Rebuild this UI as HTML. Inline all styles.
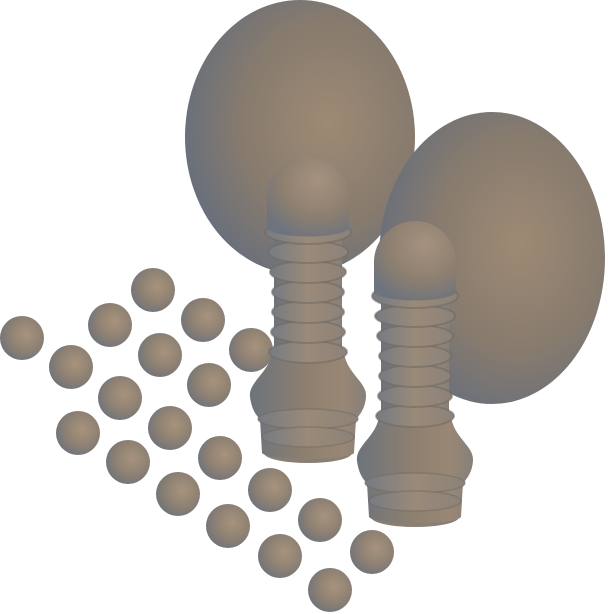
<!DOCTYPE html>
<html><head><meta charset="utf-8"><style>html,body{margin:0;padding:0;background:#fff}svg{display:block}</style></head>
<body>
<svg id="scene" width="610" height="614" viewBox="0 0 610 614" xmlns="http://www.w3.org/2000/svg">
<defs>
<radialGradient id="sph" cx="0.6" cy="0.42" r="0.68">
<stop offset="0" stop-color="#a8937c"/><stop offset="0.55" stop-color="#8e8173"/><stop offset="1" stop-color="#6b717b"/>
</radialGradient>
<radialGradient id="egg" cx="0.62" cy="0.45" r="0.62">
<stop offset="0" stop-color="#9e8a74"/><stop offset="0.6" stop-color="#877b6e"/><stop offset="1" stop-color="#6a707a"/>
</radialGradient>
<linearGradient id="col" x1="0" x2="1" y1="0" y2="0">
<stop offset="0" stop-color="#6d737c"/><stop offset="0.5" stop-color="#8f806f"/><stop offset="0.8" stop-color="#998775"/><stop offset="1" stop-color="#868079"/>
</linearGradient>
<linearGradient id="ring" x1="0" x2="1" y1="0" y2="0">
<stop offset="0" stop-color="#767b83"/><stop offset="0.5" stop-color="#9a8a78"/><stop offset="1" stop-color="#8d8279"/>
</linearGradient>
<radialGradient id="head" cx="0.62" cy="0.3" r="0.75">
<stop offset="0" stop-color="#a6927e"/><stop offset="0.6" stop-color="#8d7f70"/><stop offset="1" stop-color="#6e747d"/>
</radialGradient>
<g id="pawn">
<ellipse cx="0" cy="296" rx="44" ry="10" fill="#8a7f74"/>
<path d="M-36,195 C-38,215 -60,225 -58,240 C-56,255 -50,260 -48,262 L-46,296 C-40,304 40,304 46,296 L48,262 C52,258 58,250 58,238 C58,225 38,215 36,195 Z" fill="url(#col)"/>
<ellipse cx="0" cy="262" rx="50" ry="10" fill="url(#ring)" stroke="#6d6964" stroke-opacity="0.5" stroke-width="1.5"/>
<ellipse cx="0" cy="280" rx="46" ry="10" fill="url(#ring)" stroke="#6d6964" stroke-opacity="0.5" stroke-width="1.5"/>
<rect x="-34" y="60" width="68" height="140" fill="url(#col)"/>
<g stroke="#6d6964" stroke-opacity="0.55" stroke-width="2" fill="url(#ring)">
<ellipse cx="0" cy="195" rx="39" ry="11"/>
<ellipse cx="0" cy="175" rx="37" ry="11"/>
<ellipse cx="0" cy="155" rx="36" ry="11"/>
<ellipse cx="0" cy="135" rx="36" ry="11"/>
<ellipse cx="0" cy="115" rx="38" ry="11"/>
<ellipse cx="0" cy="95" rx="40" ry="11"/>
<ellipse cx="0" cy="75" rx="43" ry="12"/>
</g>
<path d="M-41,41 A41,41 0 0 1 41,41 L41,72 C30,82 -30,82 -41,72 Z" fill="url(#head)"/>
</g>
</defs>
<ellipse cx="300" cy="137" rx="115" ry="137" fill="url(#egg)"/>
<ellipse cx="492" cy="258" rx="113" ry="146" fill="url(#egg)"/>
<g id="spheres"></g>
<use href="#pawn" x="308" y="157"/>
<use href="#pawn" x="415" y="221"/>
</svg>
<script>
const sphereX=[153,110,203,22,160,251,71,209,120,170,78,220,128,270,178,320,228,372,280,330];
const sphereY=[290,325,320,338,355,350,367,385,398,428,433,458,462,490,494,520,526,552,556,590];
const g=document.getElementById('spheres');
sphereX.forEach((x,i)=>{
 const c=document.createElementNS('http://www.w3.org/2000/svg','circle');
 c.setAttribute('cx',x);c.setAttribute('cy',sphereY[i]);c.setAttribute('r',22);
 c.setAttribute('fill','url(#sph)');
 
 
 g.appendChild(c);
});
</script>
</body></html>
